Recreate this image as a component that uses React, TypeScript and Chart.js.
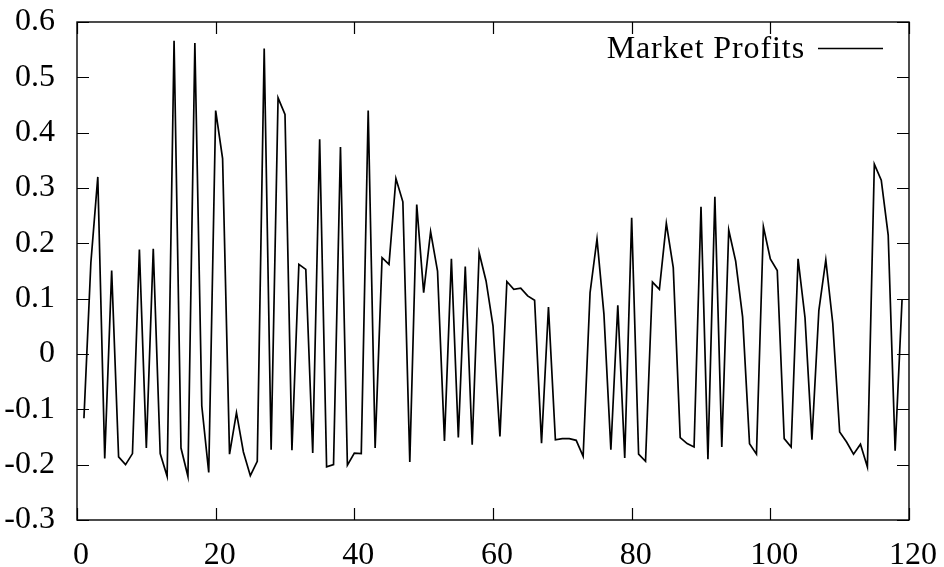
import { useEffect, useRef } from "react";
import { Chart, registerables } from "chart.js";

Chart.register(...registerables);

const seriesLabel = "Market Profits";

const profits = [
  -0.116, 0.165, 0.32, -0.189, 0.151, -0.186, -0.2, -0.18, 0.189, -0.17,
  0.19, -0.18, -0.221, 0.566, -0.17, -0.221, 0.562, -0.094, -0.214, 0.44,
  0.353, -0.181, -0.106, -0.177, -0.22, -0.194, 0.552, -0.173, 0.463, 0.433,
  -0.174, 0.162, 0.153, -0.179, 0.388, -0.204, -0.2, 0.374, -0.201, -0.179,
  -0.18, 0.44, -0.17, 0.174, 0.162, 0.317, 0.275, -0.195, 0.27, 0.111,
  0.221, 0.15, -0.157, 0.172, -0.151, 0.158, -0.164, 0.183, 0.132, 0.051,
  -0.149, 0.131, 0.117, 0.119, 0.105, 0.097, -0.161, 0.085, -0.155, -0.153,
  -0.153, -0.156, -0.185, 0.111, 0.208, 0.072, -0.173, 0.088, -0.188, 0.246,
  -0.181, -0.194, 0.13, 0.117, 0.236, 0.156, -0.151, -0.162, -0.168, 0.266,
  -0.19, 0.284, -0.168, 0.224, 0.168, 0.067, -0.162, -0.181, 0.23, 0.172,
  0.151, -0.153, -0.168, 0.172, 0.066, -0.155, 0.079, 0.17, 0.056, -0.141,
  -0.159, -0.181, -0.163, -0.204, 0.343, 0.314, 0.215, -0.175, 0.099,
];

// period index of each profit value (first period is 1)
const periods = profits.map((_, i) => i + 1);

const xTickValues = [0, 20, 40, 60, 80, 100, 120];
const xTickLabels = ["0", "20", "40", "60", "80", "100", "120"];
const yTickValues = [-0.3, -0.2, -0.1, 0, 0.1, 0.2, 0.3, 0.4, 0.5, 0.6];
const yTickLabels = ["-0.3", "-0.2", "-0.1", "0", "0.1", "0.2", "0.3", "0.4", "0.5", "0.6"];

const W = 944;
const H = 567;
const FONT_FAMILY = "'Liberation Serif', 'Times New Roman', serif";
const FONT_SIZE = 32;
const TICK_LEN = 12;

const framePlugin = {
  id: "gnuplotFrame",
  afterDatasetsDraw(chart: any) {
    const { ctx, chartArea } = chart;
    const { left, right, top, bottom } = chartArea;
    const xs = chart.scales.x;
    const ys = chart.scales.y;
    ctx.save();
    ctx.strokeStyle = "#000";
    ctx.lineWidth = 1.2;
    ctx.beginPath();
    for (const v of xTickValues) {
      const px = Math.round(xs.getPixelForValue(v)) + 0.5;
      ctx.moveTo(px, bottom);
      ctx.lineTo(px, bottom - TICK_LEN);
      ctx.moveTo(px, top);
      ctx.lineTo(px, top + TICK_LEN);
    }
    for (const v of yTickValues) {
      const py = Math.round(ys.getPixelForValue(v)) + 0.5;
      ctx.moveTo(left, py);
      ctx.lineTo(left + TICK_LEN, py);
      ctx.moveTo(right, py);
      ctx.lineTo(right - TICK_LEN, py);
    }
    ctx.stroke();
    ctx.lineWidth = 1.4;
    ctx.strokeRect(left, top, right - left, bottom - top);

    // key (legend), gnuplot style: text then line sample
    ctx.font = `${FONT_SIZE}px ${FONT_FAMILY}`;
    (ctx as any).letterSpacing = "0.9px";
    ctx.fillStyle = "#000";
    ctx.textBaseline = "alphabetic";
    ctx.textAlign = "left";
    const textRight = right - 104;
    const w = ctx.measureText(seriesLabel).width;
    ctx.fillText(seriesLabel, textRight - w, top + 36);
    (ctx as any).letterSpacing = "0px";
    ctx.lineWidth = 1.5;
    ctx.beginPath();
    ctx.moveTo(right - 91, top + 26.5);
    ctx.lineTo(right - 26, top + 26.5);
    ctx.stroke();
    ctx.restore();
  },
};

export default function App() {
  const ref = useRef<HTMLCanvasElement | null>(null);

  useEffect(() => {
    if (!ref.current) return;
    const chart = new Chart(ref.current, {
      type: "line",
      data: {
        datasets: [
          {
            label: seriesLabel,
            data: periods.map((p, i) => ({ x: p, y: profits[i] })),
            borderColor: "#000",
            borderWidth: 1.7,
            pointRadius: 0,
            tension: 0,
            fill: false,
          },
        ],
      },
      options: {
        responsive: false,
        animation: false,
        devicePixelRatio: 1,
        layout: { padding: { left: 0, top: 22, right: 35, bottom: 0 } },
        plugins: {
          legend: { display: false },
          tooltip: { enabled: false },
        },
        scales: {
          x: {
            type: "linear",
            min: 0,
            max: 120,
            grid: { display: false },
            border: { display: false },
            afterBuildTicks: (scale: any) => {
              scale.ticks = xTickValues.map((v) => ({ value: v }));
            },
            afterFit: (scale: any) => {
              scale.height = 47;
              scale.paddingLeft = 0;
              scale.paddingRight = 0;
              scale.paddingTop = 0;
              scale.paddingBottom = 0;
            },
            ticks: {
              color: "#000",
              padding: 8,
              labelOffset: 4,
              maxRotation: 0,
              autoSkip: false,
              font: { family: FONT_FAMILY, size: FONT_SIZE },
              callback: (_v: any, i: number) => xTickLabels[i],
            },
          },
          y: {
            type: "linear",
            min: -0.3,
            max: 0.6,
            grid: { display: false },
            border: { display: false },
            afterBuildTicks: (scale: any) => {
              scale.ticks = yTickValues.map((v) => ({ value: v }));
            },
            afterFit: (scale: any) => {
              scale.width = 77;
              scale.paddingLeft = 0;
              scale.paddingRight = 0;
              scale.paddingTop = 0;
              scale.paddingBottom = 0;
            },
            ticks: {
              color: "#000",
              padding: 14,
              autoSkip: false,
              font: { family: FONT_FAMILY, size: FONT_SIZE },
              callback: (_v: any, i: number) => yTickLabels[i],
            },
          },
        },
      },
      plugins: [framePlugin],
    });
    return () => chart.destroy();
  }, []);

  return (
    <div style={{ position: "absolute", left: 0, top: 0, width: W, height: H, background: "#fff" }}>
      <canvas ref={ref} width={W} height={H} style={{ width: W, height: H, display: "block" }} />
    </div>
  );
}
